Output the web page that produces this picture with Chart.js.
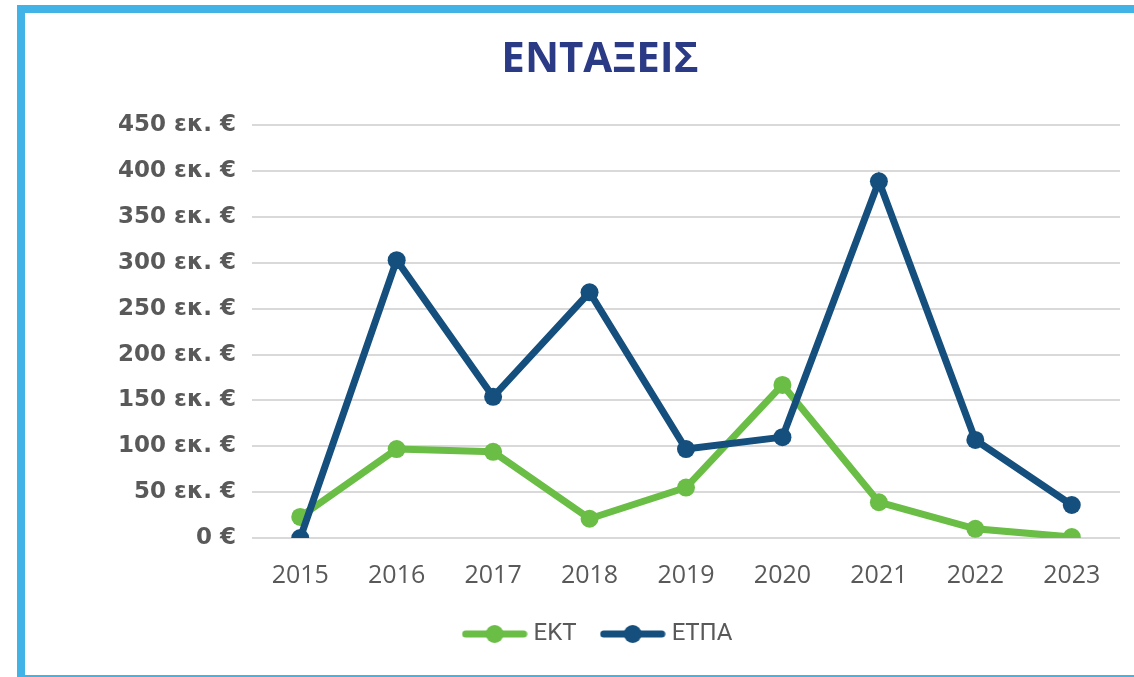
<!DOCTYPE html>
<html>
<head>
<meta charset="utf-8">
<script src="https://cdn.jsdelivr.net/npm/chart.js@4"></script>
<style>
  html, body { margin: 0; padding: 0; background: #fff; overflow: hidden; }
  #frame {
    position: absolute; left: 17px; top: 5px;
    width: 1150px; height: 662px;
    border-left: 8px solid #41b3e6;
    border-top: 8px solid #41b3e6;
    border-bottom: 8px solid #41b3e6;
  }
</style>
</head>
<body>
<div id="frame"><canvas id="myChart" width="1150" height="662"></canvas></div>
<script>
const years = ['2015', '2016', '2017', '2018', '2019', '2020', '2021', '2022', '2023'];
const ektValues = [23, 97, 94, 21, 55, 167, 39, 10, 1];
const etpaValues = [0, 303, 154, 268, 97, 110, 389, 107, 36];
const yTicks = [0, 50, 100, 150, 200, 250, 300, 350, 400, 450];

const green = '#6abd45';
const navy = '#154f7d';

// legend marker: short line with a dot in the middle
const legendMarker = (color) => {
  const c = document.createElement('canvas');
  c.width = 66;
  c.height = 20;
  const g = c.getContext('2d');
  g.strokeStyle = color;
  g.lineWidth = 7;
  g.lineCap = 'round';
  g.beginPath();
  g.moveTo(4, 10);
  g.lineTo(62, 10);
  g.stroke();
  g.fillStyle = color;
  g.beginPath();
  g.arc(33, 10, 9, 0, Math.PI * 2);
  g.fill();
  return c;
};
const markers = [legendMarker(green), legendMarker(navy)];

const ctx = document.getElementById('myChart').getContext('2d');
const chart = new Chart(ctx, {
  type: 'line',
  data: {
    labels: years,
    datasets: [{
      label: 'ΕΚΤ',
      data: ektValues,
      borderColor: green,
      backgroundColor: green,
      borderWidth: 7,
      pointRadius: 9,
      pointBorderWidth: 0,
      order: 1
    }, {
      label: 'ΕΤΠΑ',
      data: etpaValues,
      borderColor: navy,
      backgroundColor: navy,
      borderWidth: 7,
      pointRadius: 9,
      pointBorderWidth: 0,
      order: 0
    }]
  },
  options: {
    responsive: false,
    animation: false,
    layout: { padding: { left: 55, right: 55, top: 0, bottom: 19 } },
    plugins: {
      tooltip: { enabled: false },
      title: {
        display: true,
        text: 'ΕΝΤΑΞΕΙΣ',
        color: '#2b3a84',
        font: { family: 'Open Sans', size: 42, weight: 'bold' },
        padding: { top: 22, bottom: 40 }
      },
      legend: {
        position: 'bottom',
        labels: {
          usePointStyle: true,
          pointStyleWidth: 54,
          padding: 29,
          color: '#595959',
          font: { family: 'Roboto', size: 24 },
          sort: (a, b) => a.datasetIndex - b.datasetIndex,
          generateLabels: (c) => {
            const items = Chart.defaults.plugins.legend.labels.generateLabels(c);
            items.forEach((it) => { it.pointStyle = markers[it.datasetIndex]; });
            return items;
          }
        }
      }
    },
    scales: {
      x: {
        offset: true,
        grid: { display: false },
        border: { display: false },
        afterFit: (scale) => { scale.height = 55; },
        ticks: {
          color: '#595959',
          padding: 15,
          font: { family: 'Open Sans', size: 25 }
        }
      },
      y: {
        min: 0,
        max: 450,
        afterBuildTicks: (scale) => { scale.ticks = yTicks.map((v) => ({ value: v })); },
        afterFit: (scale) => { scale.width = 172; },
        grid: { color: '#d9d9d9', lineWidth: 2, drawTicks: false },
        border: { display: false },
        ticks: {
          color: '#595959',
          padding: 16,
          font: { family: 'DejaVu Sans', size: 23, weight: 'bold' },
          callback: (v) => (v === 0 ? '0 €' : v + ' εκ. €')
        }
      }
    }
  }
});
</script>
</body>
</html>
